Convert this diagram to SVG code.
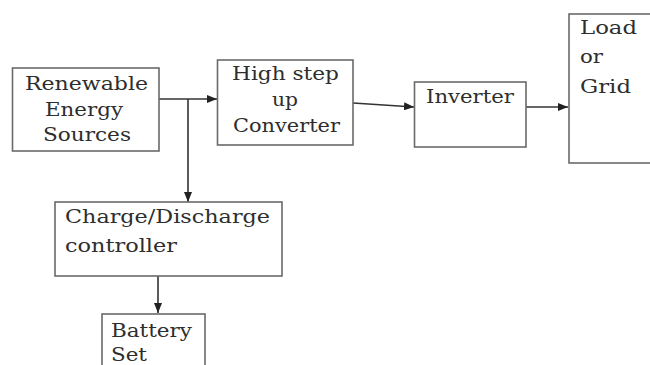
<svg xmlns="http://www.w3.org/2000/svg" width="650" height="365" viewBox="0 0 650 365">
<style>
.box{fill:#ffffff;stroke:#6a6a6a;stroke-width:1.6}
.t{font-family:"DejaVu Serif","Liberation Serif",serif;font-size:19px;fill:#2e2e2e}
.ln{stroke:#333333;stroke-width:1.6;fill:none;marker-end:url(#ah)}
</style>
<defs>
<marker id="ah" markerUnits="userSpaceOnUse" markerWidth="11" markerHeight="8" refX="10" refY="4" orient="auto">
<path d="M0,0 L10,4 L0,8 Z" fill="#222222"/>
</marker>
</defs>
<rect width="650" height="365" fill="#ffffff"/>
<g id="connectors">
<line class="ln" x1="159" y1="99" x2="217" y2="99"/>
<line class="ln" x1="188" y1="99" x2="188" y2="202"/>
<line class="ln" x1="353" y1="103" x2="414" y2="107"/>
<line class="ln" x1="526" y1="107" x2="568" y2="107"/>
<line class="ln" x1="158" y1="276" x2="158" y2="313"/>
</g>
<g id="renewable">
<rect class="box" x="12.5" y="68" width="146.5" height="83"/>
<text class="t" x="25" y="90" textLength="123" lengthAdjust="spacingAndGlyphs">Renewable</text>
<text class="t" x="45" y="115.5" textLength="78" lengthAdjust="spacingAndGlyphs">Energy</text>
<text class="t" x="43" y="141" textLength="88" lengthAdjust="spacingAndGlyphs">Sources</text>
</g>
<g id="converter">
<rect class="box" x="217.5" y="60" width="135.5" height="85"/>
<text class="t" x="232" y="80" textLength="107" lengthAdjust="spacingAndGlyphs">High step</text>
<text class="t" x="272" y="106" textLength="26" lengthAdjust="spacingAndGlyphs">up</text>
<text class="t" x="233" y="132" textLength="107" lengthAdjust="spacingAndGlyphs">Converter</text>
</g>
<g id="inverter">
<rect class="box" x="414.5" y="82" width="111.5" height="65"/>
<text class="t" x="426" y="103" textLength="88" lengthAdjust="spacingAndGlyphs">Inverter</text>
</g>
<g id="load">
<rect class="box" x="569" y="14" width="100" height="149"/>
<text class="t" x="580" y="34" textLength="57" lengthAdjust="spacingAndGlyphs">Load</text>
<text class="t" x="580" y="63" textLength="23" lengthAdjust="spacingAndGlyphs">or</text>
<text class="t" x="580" y="93" textLength="51" lengthAdjust="spacingAndGlyphs">Grid</text>
</g>
<g id="controller">
<rect class="box" x="55" y="202" width="227" height="74"/>
<text class="t" x="65" y="223" textLength="205" lengthAdjust="spacingAndGlyphs">Charge/Discharge</text>
<text class="t" x="65" y="252" textLength="112" lengthAdjust="spacingAndGlyphs">controller</text>
</g>
<g id="battery">
<rect class="box" x="102" y="314" width="103" height="70"/>
<text class="t" x="111" y="337" textLength="81" lengthAdjust="spacingAndGlyphs">Battery</text>
<text class="t" x="111" y="361" textLength="36" lengthAdjust="spacingAndGlyphs">Set</text>
</g>
</svg>
